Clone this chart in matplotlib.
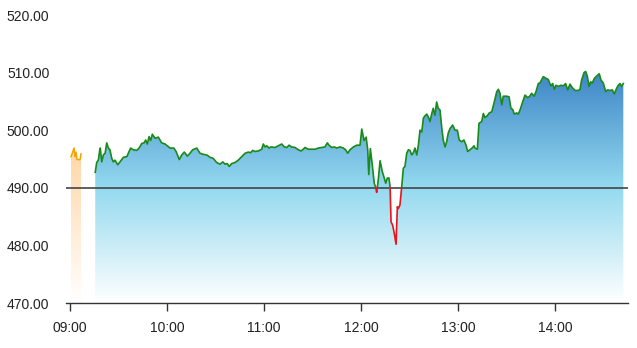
import numpy as np
import matplotlib
matplotlib.use('Agg')
import matplotlib.pyplot as plt
from matplotlib.colors import LinearSegmentedColormap

plt.rcParams['font.family'] = ['Liberation Sans', 'DejaVu Sans']

# minutes after 09:00 and prices
t_pre = [0.6, 1.5, 2.5, 3.1, 3.7, 4.3, 6.2, 6.8]
p_pre = [495.4, 496.1, 496.9, 495.4, 496.2, 494.9, 494.9, 495.9]

t_main = [15.6, 16.5, 17.5, 18.4, 18.7, 19.6, 20.6, 21.7, 22.7, 23.7, 24.7, 25.8, 26.8, 27.8,
          29.5, 30.9, 33.0, 35.1, 36.5, 37.5, 39.2, 41.3, 42.7, 44.4, 45.8, 46.8, 47.8, 48.9,
          49.9, 50.9, 52.6, 54.6, 56.7, 58.8, 61.9, 64.2, 65.6, 67.6, 69.1, 70.7, 72.6, 74.2,
          75.9, 78.4, 80.4, 82.5, 84.6, 86.6, 88.6, 90.7, 92.8, 94.5, 95.9, 97.3, 98.5, 100.0,
          102.1, 104.1, 106.2, 108.3, 110.3, 111.8, 113.0, 114.4, 116.5, 118.6, 119.6, 120.6,
          121.7, 123.1, 124.3, 126.8, 128.9, 131.0, 132.6, 134.1, 135.5, 137.1, 139.2, 141.2,
          142.9, 144.3, 145.4, 147.4, 149.5, 151.6, 153.6, 155.7, 157.7, 159.2, 160.2, 161.9,
          163.5, 165.0, 167.0, 169.1, 170.5, 171.8, 173.2, 175.3, 177.4, 179.4, 180.5, 181.9,
          183.2, 184.2, 184.8, 185.8, 187.0, 188.2, 189.1, 189.7, 190.7, 191.8, 193.2, 194.2,
          195.3, 196.3, 197.3, 198.0, 198.6, 199.6, 200.6, 201.7, 202.5, 203.1, 204.1, 205.2,
          206.2, 207.2, 208.3, 209.3, 210.3, 211.4, 212.4, 213.4, 214.5, 215.5, 216.5, 217.6,
          218.6, 219.6, 220.7, 221.7, 222.7, 223.8, 224.7, 225.8, 226.8, 227.8, 228.9, 229.9,
          230.9, 232.0, 233.0, 234.0, 235.1, 236.7, 238.2, 239.6, 240.8, 242.3, 243.7, 245.0,
          246.0, 247.4, 249.1, 249.9, 250.5, 252.0, 253.0, 254.7, 255.7, 256.7, 258.1, 259.4,
          260.9, 262.3, 264.0, 265.0, 266.0, 267.1, 268.0, 270.1, 271.6, 272.8, 273.9, 274.8,
          276.3, 277.3, 278.4, 280.0, 281.5, 282.9, 284.1, 285.6, 287.1, 288.3, 289.7, 290.7,
          292.8, 294.5, 295.9, 297.4, 298.6, 299.6, 300.6, 302.1, 303.7, 305.2, 306.6, 307.9,
          309.3, 310.7, 312.4, 314.4, 315.5, 316.5, 318.0, 319.0, 320.0, 321.1, 322.1, 323.1,
          324.4, 325.8, 327.4, 328.5, 329.9, 331.4, 332.6, 334.0, 335.5, 336.7, 338.2, 339.2,
          340.2, 341.3, 342.3]
p_main = [492.7, 494.4, 494.8, 496.6, 496.9, 494.5, 495.7, 496.0, 497.8, 496.9, 496.6, 495.1, 494.5, 494.8,
          494.0, 494.5, 495.3, 495.4, 496.3, 496.9, 496.6, 496.5, 496.9, 497.7, 497.8, 498.3, 497.6, 498.9,
          498.2, 499.3, 498.6, 498.8, 497.8, 497.6, 496.9, 496.9, 496.3, 494.9, 495.7, 496.2, 495.5, 496.0,
          496.6, 496.9, 496.0, 495.8, 495.7, 495.3, 495.1, 494.4, 494.1, 494.5, 494.1, 494.2, 493.7, 494.2,
          494.4, 494.8, 495.4, 496.0, 496.2, 496.1, 496.5, 496.3, 496.4, 496.7, 497.6, 497.1,
          497.3, 496.9, 497.1, 497.0, 497.3, 497.6, 497.1, 497.0, 497.4, 497.1, 497.0, 496.6,
          496.4, 496.7, 497.0, 496.7, 496.7, 496.7, 496.9, 497.0, 497.1, 497.8, 497.4, 497.0,
          497.1, 496.9, 497.1, 496.9, 496.6, 496.0, 496.6, 497.1, 497.4, 497.4, 500.2, 498.2,
          498.8, 496.5, 492.3, 496.8, 494.0, 490.8, 490.1, 489.2, 491.4, 494.7, 492.8, 491.9,
          490.8, 491.7, 491.7, 490.2, 484.1, 483.5, 482.1, 480.2, 486.7, 486.4, 487.0, 490.2,
          493.4, 493.7, 496.0, 496.6, 496.5, 495.7, 496.1, 496.9, 495.7, 497.4, 500.0, 499.7,
          502.1, 502.5, 502.8, 502.3, 501.5, 502.9, 503.8, 502.6, 504.9, 503.8, 503.5, 500.6,
          498.3, 497.1, 498.0, 499.5, 500.3, 500.9, 500.0, 500.0, 498.3, 498.0, 498.3, 497.4,
          496.3, 496.6, 497.0, 497.3, 496.9, 496.7, 501.2, 501.5, 502.9, 502.2, 502.5, 503.0,
          503.2, 504.7, 506.7, 507.1, 506.4, 504.4, 505.9, 505.9, 505.8, 503.8, 503.6, 502.8,
          503.0, 502.8, 503.5, 504.9, 506.1, 505.7, 505.8, 506.4, 505.9, 506.7, 508.1, 508.2,
          509.3, 509.0, 508.8, 507.7, 508.1, 507.1, 507.8, 507.6, 507.8, 507.7, 508.1, 507.0,
          508.0, 507.4, 506.9, 506.9, 507.1, 508.7, 510.0, 510.2, 509.4, 507.6, 508.4, 508.2,
          509.0, 509.4, 509.8, 508.7, 508.2, 506.7, 507.0, 506.9, 507.0, 506.3, 507.3, 507.8,
          508.1, 507.6, 508.1]

base = 490.0
tick_pos = [0, 60, 120, 180, 240, 300]
tick_lab = ['09:00', '10:00', '11:00', '12:00', '13:00', '14:00']
y_ticks = [470, 480, 490, 500, 510, 520]

ymin, ymax = 470, 520


def split_at(t, p, lvl):
    tt, pp = [t[0]], [p[0]]
    for i in range(1, len(t)):
        a, b = p[i - 1] - lvl, p[i] - lvl
        if a * b < 0:
            tc = t[i - 1] + (lvl - p[i - 1]) / (p[i] - p[i - 1]) * (t[i] - t[i - 1])
            tt.append(tc)
            pp.append(lvl)
        tt.append(t[i])
        pp.append(p[i])
    return np.array(tt), np.array(pp)


def grad_fill(ax, t, p, cmap, top):
    poly = ax.fill_between(t, p, ymin, color='none', lw=0)
    g = np.linspace(0, 1, 256).reshape(-1, 1)
    im = ax.imshow(g, extent=[t[0], t[-1], ymin, top], aspect='auto',
                   cmap=cmap, origin='lower', zorder=1)
    im.set_clip_path(poly.get_paths()[0], transform=ax.transData)


blue = LinearSegmentedColormap.from_list('b', [(0, '#ffffff'), (0.5, '#93d9ef'), (1, '#3c84c6')])
orange = LinearSegmentedColormap.from_list('o', [(0, '#ffffff'), (1, '#ffd6a3')])

fig = plt.figure(figsize=(6.37, 3.48), dpi=100)
ax = fig.add_axes([66 / 637, 1 - 303 / 348, (628 - 66) / 637, 288 / 348])

grad_fill(ax, t_pre, p_pre, orange, 497.5)
grad_fill(ax, t_main, p_main, blue, 510.5)

ax.axhline(base, color='#444444', lw=1.2, zorder=2)

ax.plot(t_pre, p_pre, color='#f5a300', lw=1.1, zorder=3)
tt, pp = split_at(t_main, p_main, base)
ax.plot(tt, np.where(pp >= base, pp, np.nan), color='#1a8a1a', lw=1.2, zorder=3)
ax.plot(tt, np.where(pp <= base, pp, np.nan), color='#e8141c', lw=1.2, zorder=3)

ax.set_xlim(-2.5, 345.2)
ax.set_ylim(ymin, ymax)
ax.set_xticks(tick_pos)
ax.set_xticklabels(tick_lab)
ax.set_yticks(y_ticks)
ax.set_yticklabels(['%.2f' % v for v in y_ticks])

for s in ['top', 'right', 'left']:
    ax.spines[s].set_visible(False)
ax.spines['bottom'].set_color('#333333')
ax.spines['bottom'].set_linewidth(1.0)
ax.tick_params(axis='y', length=0, pad=12, labelsize=10, labelcolor='#222222')
ax.tick_params(axis='x', length=6, width=1.0, color='#333333', pad=7, labelsize=10,
               labelcolor='#222222')

plt.savefig('out.png', dpi=100)
